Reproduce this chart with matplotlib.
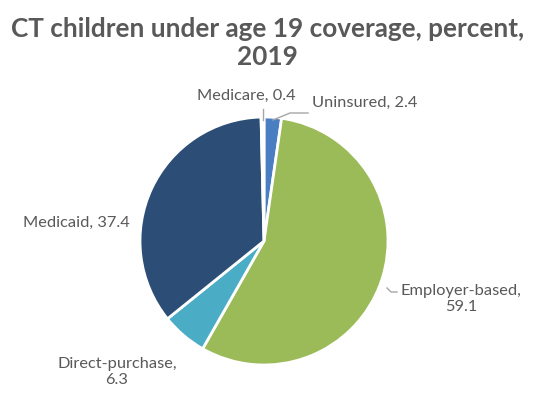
import matplotlib.pyplot as plt

# CT children under 19, coverage shares (percent, 2019)
labels = ['Uninsured', 'Employer-based', 'Direct-purchase', 'Medicaid', 'Medicare']
values = [2.4, 59.1, 6.3, 37.4, 0.4]
colors = ['#4a7ec2', '#9bbb59', '#4bacc6', '#2c4d75', '#eef2f8']

W, H, DPI = 535, 417, 100
fig = plt.figure(figsize=(W / DPI, H / DPI), dpi=DPI)
fig.patch.set_facecolor('white')

# pie centre ~ (264, 241) px, radius ~124 px
cx, cy, r = 264, 241, 124
ax = fig.add_axes([(cx - r) / W, 1 - (cy + r) / H, 2 * r / W, 2 * r / H])
ax.pie(values, colors=colors, startangle=90, counterclock=False,
       wedgeprops=dict(edgecolor='white', linewidth=2))
ax.set_xlim(-1, 1)
ax.set_ylim(-1, 1)
ax.set_aspect('equal')
ax.axis('off')

def px(x, y):
    return ((x - cx) / r, (cy - y) / r)

txt = dict(color='#595959', fontsize=11.8, family='Lato', ha='center', va='center',
           linespacing=1.25)
line = dict(color='#a6a6a6', linewidth=1)

# data labels
ax.text(*px(246, 96), f'{labels[4]}, {values[4]}', clip_on=False, **txt)
ax.plot(*zip(px(263, 109), px(263, 120)), clip_on=False, **line)

ax.text(*px(312, 103), f'{labels[0]}, {values[0]}', clip_on=False,
        **{**txt, 'ha': 'left'})
ax.plot(*zip(px(273, 120), px(290, 113), px(308, 113)), clip_on=False, **line)

ax.text(*px(461, 299), f'{labels[1]},\n{values[1]}', clip_on=False, **txt)
ax.plot(*zip(px(387, 288), px(391, 292), px(397, 292)), clip_on=False, **line)

ax.text(*px(117, 372), f'{labels[2]},\n{values[2]}', clip_on=False, **txt)

ax.text(*px(76, 223), f'{labels[3]}, {values[3]}', clip_on=False, **txt)

fig.text(0.5, 1 - 43 / H, 'CT children under age 19 coverage, percent,\n2019',
         ha='center', va='center', color='#595959', fontsize=18.8,
         fontweight='bold', family='Lato', linespacing=1.2)

fig.savefig('out.png', dpi=DPI, facecolor='white')
